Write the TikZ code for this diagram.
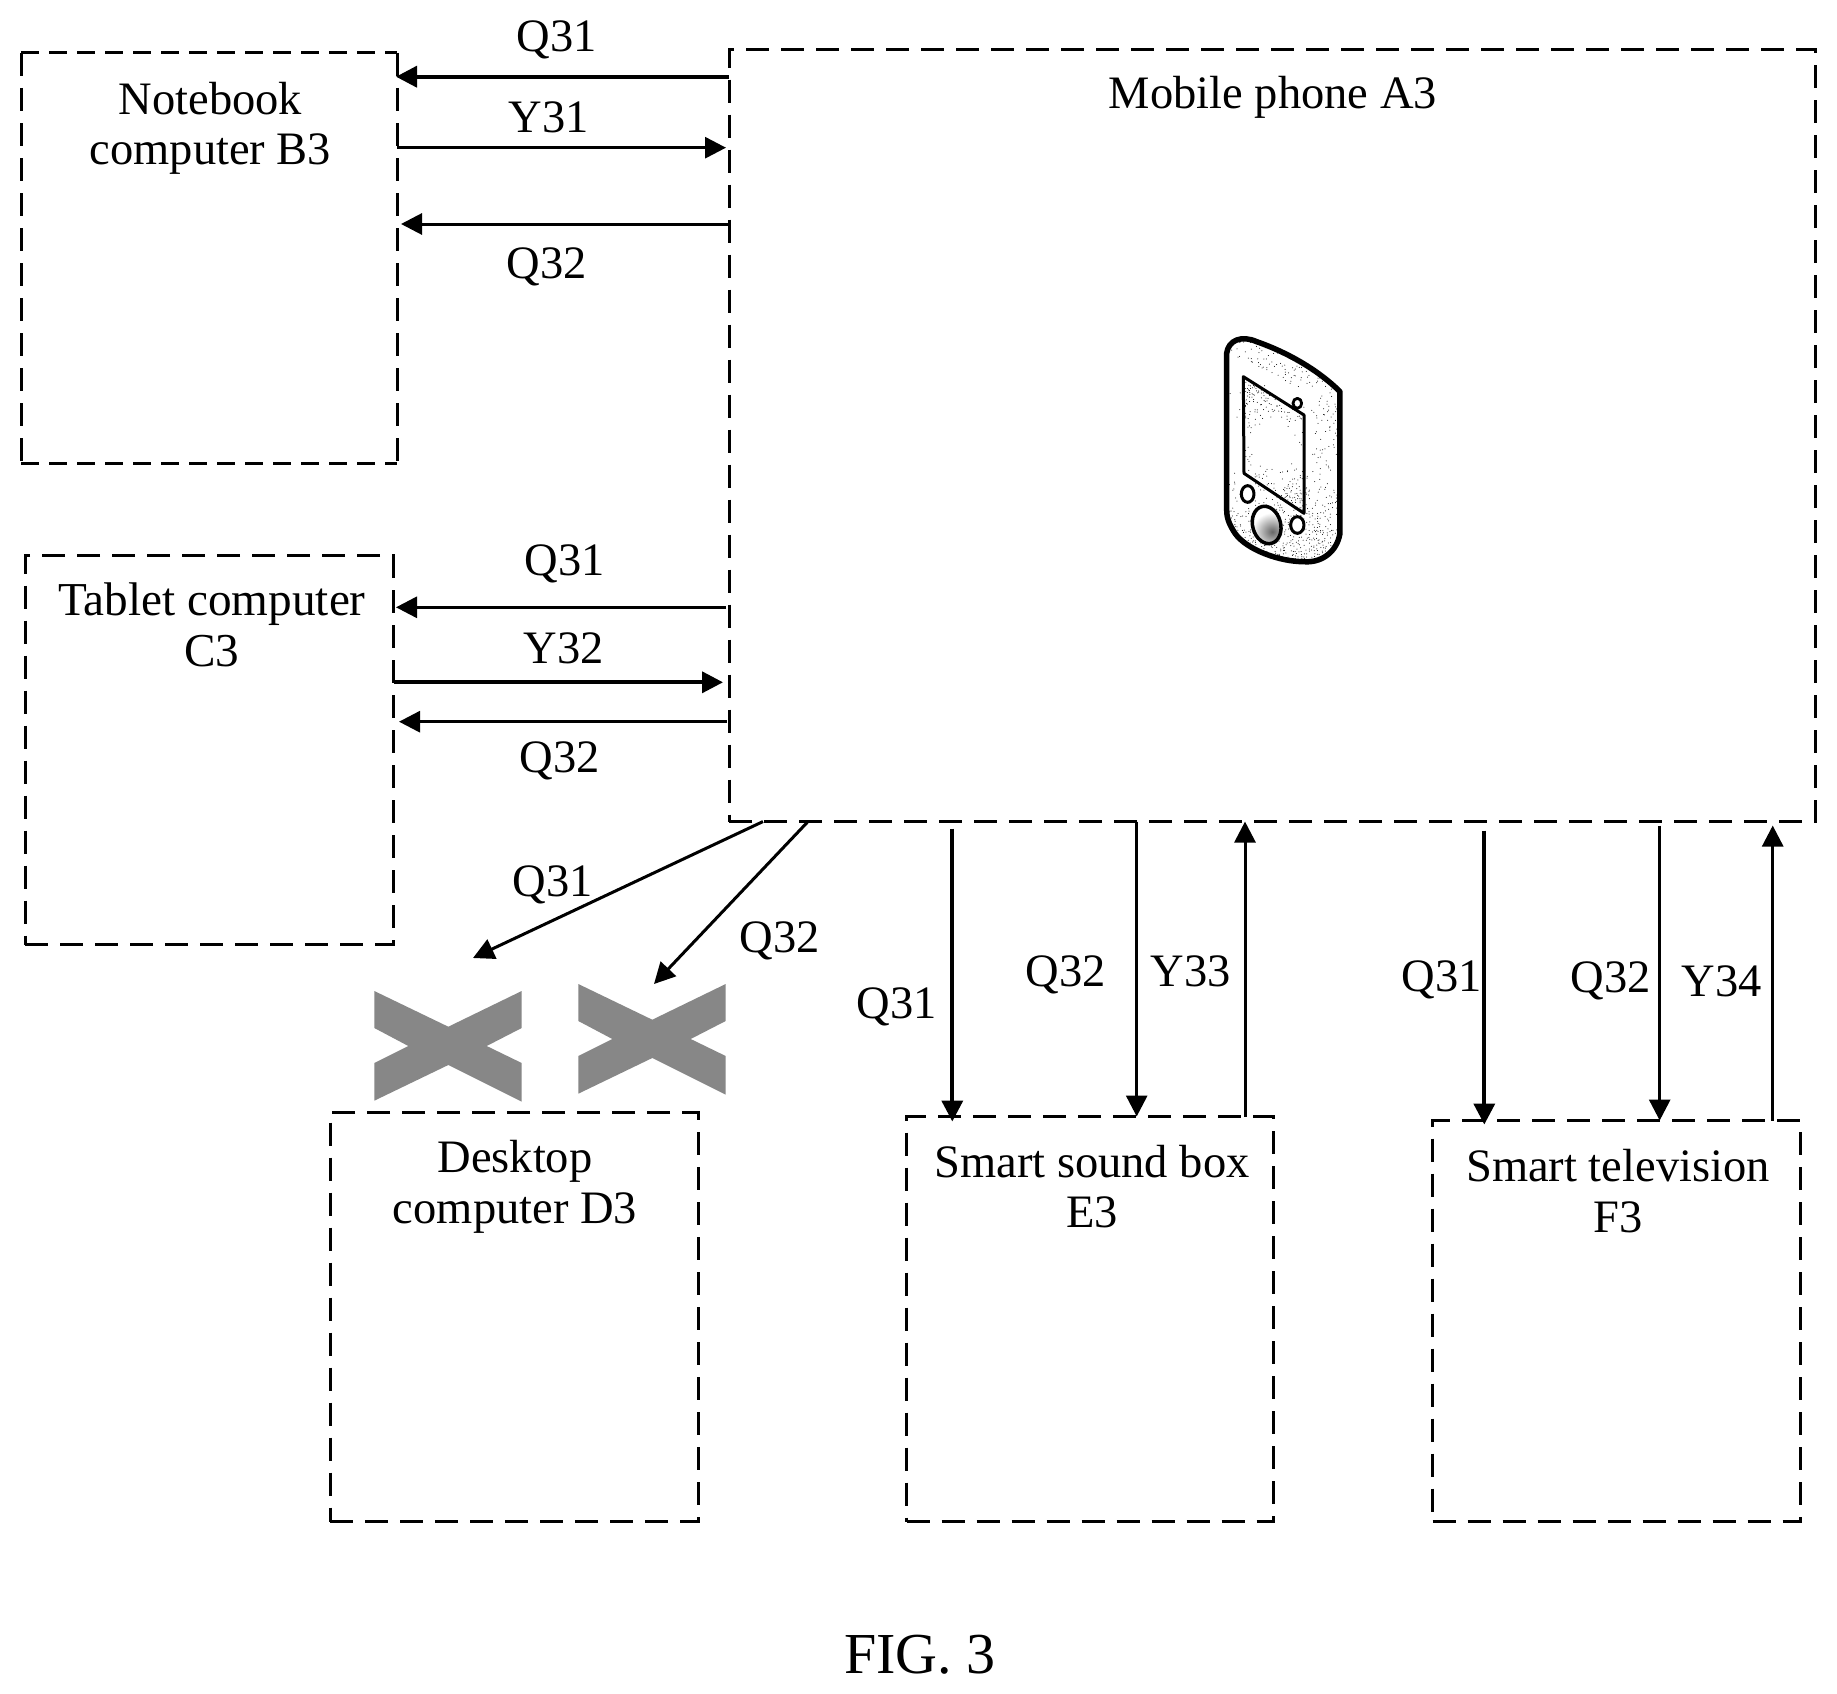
\documentclass[tikz,border=0pt]{standalone}
\usepackage{fontspec}
\setmainfont{Liberation Serif}
\usetikzlibrary{arrows.meta}
\tikzset{
  dbox/.style={draw=black,line width=3pt,dash pattern=on 23pt off 12pt,inner sep=0pt,outer sep=0pt},
  nobox/.style={inner sep=0pt,outer sep=0pt},
  dline/.style={draw=black,line width=3pt,dash pattern=on 23pt off 12pt},
  dlineh/.style={draw=black,line width=3pt,dash pattern=on 18pt off 10pt},
  lbl/.style={font=\fontsize{46.5}{50.5}\selectfont,align=center,inner sep=0pt,text=black},
  conn/.style={draw=black,line width=3pt,-{Triangle[length=21pt,width=21pt]}},
  thickconn/.style={conn,line width=3.7pt},
  crossmark/.style={fill=black!47,draw=none},
  outl/.style={draw=black,line cap=round,line join=round}
}
\def\phonebody{(140,130) .. controls (145,90) and (185,75) .. (230,95) .. controls (330,130) and (420,185) .. (480,245) -- (480,670) .. controls (470,730) and (420,760) .. (370,755) .. controls (300,755) and (200,720) .. (165,670) .. controls (145,640) and (140,620) .. (140,600) -- cycle}
\def\phonescreen{(190,200) -- (372,315) -- (372,610) -- (192,490) -- cycle}
\def\crossshape{(374.3,991) -- (448.3,1026.7) -- (521.7,991) -- (521.7,1028) -- (486.7,1046) -- (521.7,1063) -- (521.7,1101.7) -- (448.3,1065) -- (374.3,1100.7) -- (374.3,1063) -- (408.3,1046) -- (374.3,1028) -- cycle}
\begin{document}
\begin{tikzpicture}[x=1pt,y=-1pt]
\useasboundingbox (0,0) rectangle (1837,1694);
\fill[white] (0,0) rectangle (1837,1694);
% boxes
\node[dbox,minimum width=1086pt,minimum height=772.5pt] (A) at (1272,435.3) {};
\node[nobox,minimum width=376pt,minimum height=410pt] (B) at (209,258) {};
\draw[dline] (B.north west) -- (B.south west);
\draw[dline] (B.north east) -- (B.south east);
\draw[dlineh] (B.north west) -- (B.north east);
\draw[dlineh] (B.south west) -- (B.south east);
\node[dbox,minimum width=368pt,minimum height=389pt] (C) at (209,750) {};
\node[dbox,minimum width=368pt,minimum height=409pt] (D) at (514,1317) {};
\node[dbox,minimum width=367pt,minimum height=405pt] (E) at (1090.2,1319) {};
\node[dbox,minimum width=368pt,minimum height=401pt] (F) at (1616.5,1321) {};
% box labels
\node[lbl] (tA) at (1273,97.5) {Mobile phone A3};
\node[lbl] (tB) at (210.5,128.5) {Notebook\\computer B3};
\node[lbl,font=\fontsize{47.2}{50.5}\selectfont] (tC) at (212,625) {Tablet computer\\C3};
\node[lbl] (tD) at (515,1187) {Desktop\\computer D3};
\node[lbl] (tE) at (1092,1186.5) {Smart sound box\\E3};
\node[lbl] (tF) at (1618,1191) {Smart television\\F3};
\node[lbl,font=\fontsize{58}{60}\selectfont] (fig) at (920,1655) {FIG. 3};
% edge labels
\node[lbl,anchor=base] (l1) at (557,51.7) {Q31};
\node[lbl,anchor=base] (l2) at (549,132.7) {Y31};
\node[lbl,anchor=base] (l3) at (547,278) {Q32};
\node[lbl,anchor=base] (l4) at (565,575) {Q31};
\node[lbl,anchor=base] (l5) at (564,663) {Y32};
\node[lbl,anchor=base] (l6) at (560,772.5) {Q32};
\node[lbl,anchor=base] (l7) at (553,896) {Q31};
\node[lbl,anchor=base] (l8) at (780,952.7) {Q32};
\node[lbl,anchor=base] (l9) at (896.5,1018) {Q31};
\node[lbl,anchor=base] (l10) at (1066,986.7) {Q32};
\node[lbl,anchor=base] (l11) at (1191,986.7) {Y33};
\node[lbl,anchor=base] (l12) at (1441.5,991) {Q31};
\node[lbl,anchor=base] (l13) at (1611,992.7) {Q32};
\node[lbl,anchor=base] (l14) at (1722,996) {Y34};
% connector rows/columns
\coordinate (r1) at (0,76.7);
\coordinate (r2) at (0,147.7);
\coordinate (r3) at (0,224);
\coordinate (r4) at (0,607.3);
\coordinate (r5) at (0,682.3);
\coordinate (r6) at (0,721.7);
\coordinate (c1) at (952.3,0);
\coordinate (c2) at (1136.7,0);
\coordinate (c3) at (1245,0);
\coordinate (c4) at (1484.3,0);
\coordinate (c5) at (1659.7,0);
\coordinate (c6) at (1772.7,0);
\coordinate (c7) at (763,0);
\coordinate (c8) at (808,0);
\coordinate (xa) at (473,958);
\coordinate (xb) at (654,984);
% connectors B
\draw[thickconn,shorten >=-1pt] (A.west |- r1) -- (B.east |- r1);
\draw[conn,shorten >=3pt] (B.east |- r2) -- (A.west |- r2);
\draw[conn,shorten >=4pt] (A.west |- r3) -- (B.east |- r3);
% connectors C
\draw[conn,shorten <=3pt,shorten >=3pt] (A.west |- r4) -- (C.east |- r4);
\draw[thickconn,shorten <=1pt,shorten >=6pt] (C.east |- r5) -- (A.west |- r5);
\draw[conn,shorten <=2pt,shorten >=6pt] (A.west |- r6) -- (C.east |- r6);
% connectors to D (blocked)
\draw[conn] (c7 |- A.south) -- (xa);
\draw[conn] (c8 |- A.south) -- (xb);
% connectors E
\draw[thickconn,shorten <=7pt,shorten >=-5pt] (c1 |- A.south) -- (c1 |- E.north);
\draw[conn] (c2 |- A.south) -- (c2 |- E.north);
\draw[conn] (c3 |- E.north) -- (c3 |- A.south);
% connectors F
\draw[thickconn,shorten <=9pt,shorten >=-4pt] (c4 |- A.south) -- (c4 |- F.north);
\draw[conn,shorten <=4pt] (c5 |- A.south) -- (c5 |- F.north);
\draw[conn,shorten >=4pt] (c6 |- F.north) -- (c6 |- A.south);
% crosses
\fill[crossmark] \crossshape;
\begin{scope}[shift={(204,-7)}]
\fill[crossmark] \crossshape;
\end{scope}
% phone
\begin{scope}[shift={(1180,310)},x=0.3333pt,y=-0.3333pt]
\pgfmathsetseed{42}
\fill[white] \phonebody;
\begin{scope}
\clip \phonebody;
\foreach \u in {140,148,...,480} \foreach \v in {75,83,...,760} {
  \pgfmathparse{rnd<max(0.02,0.8*(\v-470)/280,0.3*(\v<(155+0.5*(\u-200)))*(\u<400),0.2*(\u>400))?1:0}
  \ifnum\pgfmathresult=1 \fill[black] (\u+3*rand,\v+3*rand) circle[radius=1.5]; \fi
}
\end{scope}
\begin{scope}
\fill[white] \phonescreen;
\clip \phonescreen;
\foreach \u in {190,197,...,372} \foreach \v in {200,207,...,610} {
  \pgfmathparse{rnd<min(0.85,max(0,(100*sqrt((\u/100-2.8)*(\u/100-2.8)+(\v/100-4.05)*(\v/100-4.05))-60)/170))?1:0}
  \ifnum\pgfmathresult=1 \fill[black] (\u+3*rand,\v+3*rand) circle[radius=1.5]; \fi
}
\end{scope}
\draw[outl,line width=3pt] \phonescreen;
\draw[outl,line width=5.5pt] \phonebody;
\draw[outl,line width=2.8pt,fill=white] (352,280) circle[x radius=13,y radius=15];
\draw[outl,line width=3pt,fill=white] (203,552) circle[x radius=19,y radius=25];
\draw[outl,line width=3pt,fill=white] (352,645) circle[x radius=20,y radius=25];
\begin{scope}[rotate around={15:(260,645)}]
\fill[white] (260,645) circle[x radius=42,y radius=57];
\begin{scope}
\clip (260,645) circle[x radius=42,y radius=57];
\shade[inner color=black!60,outer color=white] (272,665) circle[radius=55];
\end{scope}
\draw[outl,line width=3.5pt] (260,645) circle[x radius=42,y radius=57];
\end{scope}
\end{scope}
\end{tikzpicture}
\end{document}
